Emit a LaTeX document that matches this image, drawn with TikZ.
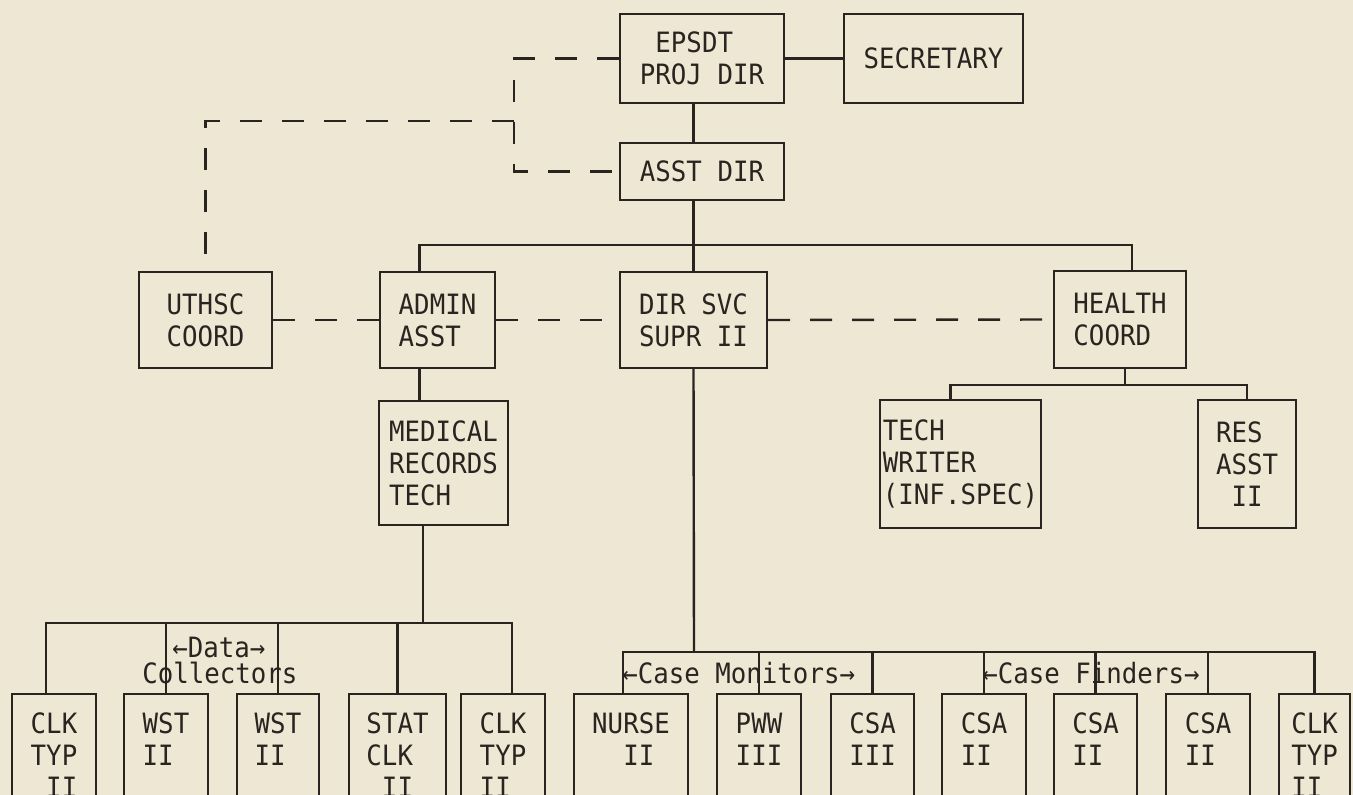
\documentclass[tikz,border=0pt]{standalone}
\usepackage{fontspec}
\setmonofont{DejaVu Sans Mono}[FakeStretch=0.92]
\usepackage{tikz}
\usetikzlibrary{calc}
\usepackage{xcolor}
\definecolor{paper}{HTML}{EEE7D4}
\definecolor{ink}{HTML}{2A2420}

\begin{document}
\begin{tikzpicture}[
  x=0.5pt, y=-0.5pt,
  font=\ttfamily\fontsize{14}{16}\selectfont,
  orgbox/.style={
    draw=ink,
    text=ink,
    line width=1.2pt,
    align=left,
    inner sep=0pt
  },
  lowbox/.style={
    orgbox,
    anchor=north,
    inner ysep=9.5pt,
    text depth=70pt
  },
  solidline/.style={draw=ink, line width=1.2pt},
  dashline/.style={draw=ink, line width=1.2pt, dash pattern=on 11pt off 10pt},
  grouplabel/.style={inner sep=0pt, anchor=base west, text=ink}
]

  \useasboundingbox (0,0) rectangle (1353,795);
  \fill[paper] (0,0) rectangle (1353,795);
  \clip (0,0) rectangle (1353,795);

  % Director level
  \node[orgbox, minimum width=82pt, minimum height=44.5pt] (proj) at (702,58.5) {\ EPSDT\\PROJ DIR};
  \node[orgbox, minimum width=89.5pt, minimum height=44.5pt] (sec) at (933.5,58.5) {SECRETARY};
  \node[orgbox, minimum width=82pt, minimum height=28.5pt] (asst) at (702,171.5) {ASST DIR};

  % Second row
  \node[orgbox, minimum width=66.5pt, minimum height=48pt] (uthsc) at (205.5,320) {UTHSC\\COORD};
  \node[orgbox, minimum width=57.5pt, minimum height=48pt] (admin) at (437.5,320) {ADMIN\\ASST};
  \node[orgbox, minimum width=73.5pt, minimum height=48pt] (dirsvc) at (693.5,320) {DIR SVC\\SUPR II};
  \node[orgbox, minimum width=66pt, minimum height=48.5pt] (health) at (1120,319.5) {HEALTH\\COORD};

  % Third row
  \node[orgbox, minimum width=64.5pt, minimum height=62pt] (medical) at (443.5,463) {MEDICAL\\RECORDS\\TECH};
  \node[orgbox, minimum width=80.5pt, minimum height=64pt] (tech) at (960.5,464) {TECH\\WRITER\\(INF.SPEC)};
  \node[orgbox, minimum width=49pt, minimum height=64pt] (res) at (1247,464) {RES\\ASST\\\ II};

  % Bottom row, data collectors
  \node[lowbox, minimum width=42pt] (clkA) at (54,693) {CLK\\TYP\\\ II};
  \node[lowbox, minimum width=42pt] (wstA) at (166,693) {WST\\II};
  \node[lowbox, minimum width=41pt] (wstB) at (278,693) {WST\\II};
  \node[lowbox, minimum width=48.5pt] (statC) at (397.5,693) {STAT\\CLK\\\ II};
  \node[lowbox, minimum width=42pt] (clkB) at (503,693) {CLK\\TYP\\II};

  % Bottom row, case monitors and finders
  \node[lowbox, minimum width=57pt] (nurse) at (631,693) {NURSE\\\ \ II};
  \node[lowbox, minimum width=42pt] (pww) at (759,693) {PWW\\III};
  \node[lowbox, minimum width=41.5pt] (csaC3) at (872.5,693) {CSA\\III};
  \node[lowbox, minimum width=42pt] (csaA) at (984,693) {CSA\\II};
  \node[lowbox, minimum width=41.5pt] (csaB) at (1095.5,693) {CSA\\II};
  \node[lowbox, minimum width=42pt] (csaC) at (1208,693) {CSA\\II};
  \node[lowbox, minimum width=35.5pt] (clkC) at (1314.5,693) {CLK\\TYP\\II};

  % Group labels
  \node[grouplabel] (dataLbl) at (172,657) {←Data→};
  \node[grouplabel] (collLbl) at (142,683) {Collectors};
  \node[grouplabel] (monLbl) at (622,683) {←Case Monitors→};
  \node[grouplabel] (findLbl) at (982,683) {←Case Finders→};

  % Bus points
  \coordinate (busTop) at (694,245);
  \coordinate (busData) at (423,623);
  \coordinate (busCase) at (694,652);
  \coordinate (busHealth) at (1125,385);
  \coordinate (dashJoin) at (514,121);

  % Solid lines
  \draw[solidline] (proj.east) -- (sec.west);
  \draw[solidline] (proj.south -| dirsvc.north) -- (asst.north -| dirsvc.north);
  \draw[solidline] (asst.south -| dirsvc.north) -- (dirsvc.north);
  \draw[solidline] ([xshift=-9pt]admin.north) |- (busTop) -| ([xshift=6pt]health.north);
  \draw[solidline] ([xshift=-9pt]admin.south) -- ([xshift=-9pt]admin.south |- medical.north);
  \draw[solidline] (medical.south -| busData) -- (busData);
  \draw[solidline] ([xshift=-4pt]clkA.north) |- (busData) -| ([xshift=4.5pt]clkB.north);
  \foreach \n in {wstA,wstB,statC}
    \draw[solidline] (\n.north) -- (\n.north |- busData);
  \draw[solidline] (dirsvc.south) -- (busCase);
  \draw[solidline] ([xshift=-4pt]nurse.north) |- (busCase) -| (clkC.north);
  \foreach \n in {pww,csaC3,csaA,csaB,csaC}
    \draw[solidline] (\n.north) -- (\n.north |- busCase);
  \draw[solidline] (health.south -| busHealth) -- (busHealth);
  \draw[solidline] ([xshift=-5pt]tech.north) |- (busHealth) -| (res.north);

  % Dashed lines
  \draw[dashline] (proj.west) -| (dashJoin) |- (asst.west);
  \draw[dashline] (dashJoin) -| (uthsc.north);
  \draw[dashline] (uthsc.east) -- (admin.west);
  \draw[dashline] (admin.east) -- (dirsvc.west);
  \draw[dashline] (dirsvc.east) -- (health.west);

\end{tikzpicture}
\end{document}
